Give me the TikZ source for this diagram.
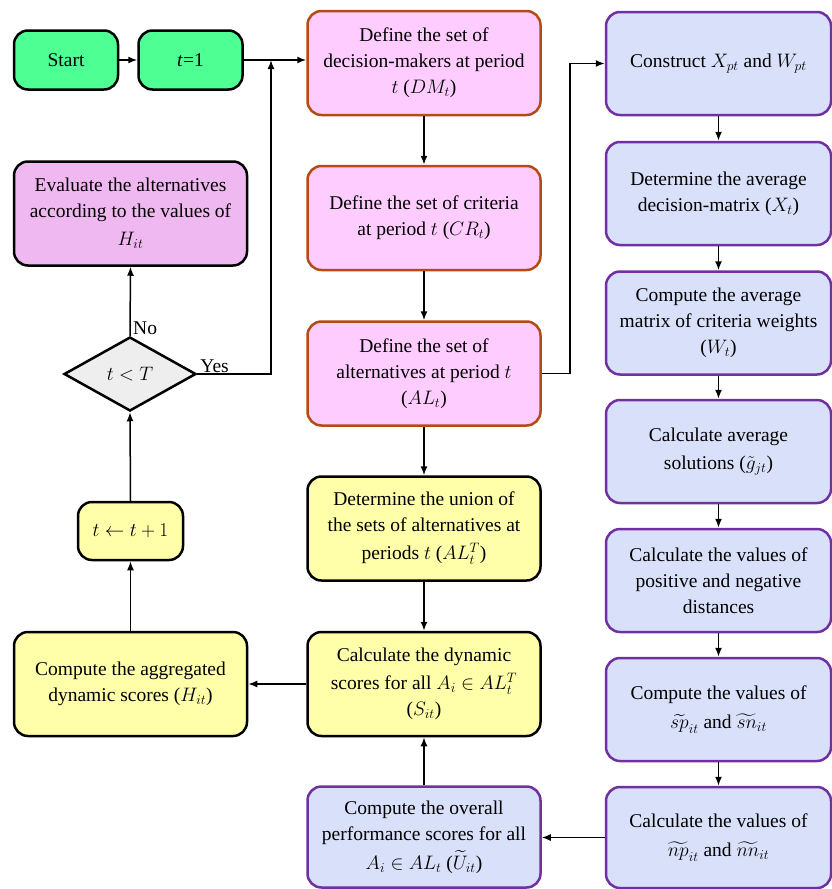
\RequirePackage{fix-cm}
\documentclass[tikz,border=0pt]{standalone}
\usepackage{amsmath,amssymb}
\usepackage{fontspec}
\setmainfont{Liberation Serif}
\usetikzlibrary{arrows.meta,shapes.geometric}
\definecolor{cgreen}{RGB}{78,255,148}
\definecolor{cpink}{RGB}{255,204,255}
\definecolor{cbrown}{RGB}{180,75,20}
\definecolor{cviolet}{RGB}{240,184,240}
\definecolor{cgrey}{RGB}{238,238,238}
\definecolor{cyellow}{RGB}{255,255,170}
\definecolor{cblue}{RGB}{217,224,250}
\definecolor{cpurple}{RGB}{112,48,160}
\begin{document}
\begin{tikzpicture}[x=1pt,y=-1pt,
  box/.style={draw, line width=2.5pt, rounded corners=14pt, align=flush center,
    font=\fontsize{19.5}{26}\selectfont, inner sep=2pt,
    minimum width=233pt, minimum height=104pt, text width=225pt},
  gbox/.style={box, fill=cgreen, minimum width=104pt, minimum height=59pt, text width=95pt},
  pbox/.style={box, fill=cpink, draw=cbrown},
  ybox/.style={box, fill=cyellow},
  bbox/.style={box, fill=cblue, draw=cpurple},
  rbox/.style={bbox, minimum width=225pt, minimum height=103pt, text width=218pt},
  arr/.style={line width=1.5pt, -{Latex[length=9pt,width=7pt]}},
  lbl/.style={font=\fontsize{19.5}{24}\selectfont, inner sep=1pt}
]
\useasboundingbox (0,0) rectangle (832,889);
% left column
\node[gbox] (start) at (66,60) {Start};
\node[gbox] (t1) at (190.5,60) {\textit{t}=1};
\node[box, fill=cviolet] (ev) at (130.5,213.5) {Evaluate the alternatives\\according to the values of\\[2pt]$H_{it}$};
\node[draw, line width=2.5pt, fill=cgrey, diamond, inner sep=0pt, minimum width=132pt, minimum height=74pt, shape aspect=1.78, font=\fontsize{19.5}{24}\selectfont] (dia) at (130,374) {$t<T$};
\node[ybox, minimum width=105pt, minimum height=58pt, text width=100pt] (inc) at (130.5,531) {$t\leftarrow t+1$};
\node[ybox] (agg) at (130.5,684) {Compute the aggregated\\dynamic scores ($H_{it}$)};
% middle column
\node[pbox] (dm) at (424,63) {Define the set of\\decision-makers at period\\$t$ ($DM_t$)};
\node[pbox] (cr) at (424,218) {Define the set of criteria\\at period $t$ ($CR_t$)};
\node[pbox] (al) at (424,373.5) {Define the set of\\alternatives at period $t$\\($AL_t$)};
\node[ybox] (un) at (424,528.5) {Determine the union of\\the sets of alternatives at\\[2pt]periods $t$ ($AL_t^T$)};
\node[ybox] (ds) at (424,684) {Calculate the dynamic\\[2pt]scores for all $A_i\in AL_t^T$\\($S_{it}$)};
\node[bbox, minimum height=101pt] (ov) at (424,837) {Compute the overall\\performance scores for all\\[3pt]$A_i\in AL_t$ ($\widetilde{U}_{it}$)};
% right column
\node[rbox] (c1) at (718.5,63.5) {Construct $X_{pt}$ and $W_{pt}$};
\node[rbox] (c2) at (718.5,193.5) {Determine the average\\decision-matrix ($X_t$)};
\node[rbox] (c3) at (718.5,323) {Compute the average\\matrix of criteria weights\\($W_t$)};
\node[rbox] (c4) at (718.5,451.5) {Calculate average\\[2pt]solutions ($\tilde{g}_{jt}$)};
\node[rbox] (c5) at (718.5,580.5) {Calculate the values of\\positive and negative\\distances};
\node[rbox] (c6) at (718.5,709.5) {Compute the values of\\[3pt]$\widetilde{sp}_{it}$ and $\widetilde{sn}_{it}$};
\node[rbox, minimum height=101pt] (c7) at (718.5,837.5) {Calculate the values of\\[3pt]$\widetilde{np}_{it}$ and $\widetilde{nn}_{it}$};
% labels
\node[lbl, anchor=south west] (no) at ([xshift=2pt]dia.north) {No};
\node[lbl, anchor=south west] (yes) at ([xshift=2pt]dia.east) {Yes};
% connectors
\coordinate (jn) at (271,60);
\draw[arr] (start) -- (t1);
\draw[arr] (t1.east) -- (t1.east -| dm.west);
\draw[arr] (dia.east) -- (jn |- dia.east) -- (jn);
\draw[arr] (dia.north) -- (ev.south);
\draw[arr] (inc.north) -- (dia.south);
\draw[arr] (agg.north) -- (inc.south);
\draw[arr] (dm) -- (cr);
\draw[arr] (cr) -- (al);
\draw[arr] (al) -- (un);
\draw[arr] (un) -- (ds);
\draw[arr] (ov) -- (ds);
\draw[arr] (ds.west) -- (ds.west -| agg.east);
\draw[arr] (al.east) -- ++(28,0) |- (c1.west);
\draw[arr] (c1) -- (c2);
\draw[arr] (c2) -- (c3);
\draw[arr] (c3) -- (c4);
\draw[arr] (c4) -- (c5);
\draw[arr] (c5) -- (c6);
\draw[arr] (c6) -- (c7);
\draw[arr] (c7.west) -- (c7.west -| ov.east);
\end{tikzpicture}
\end{document}
